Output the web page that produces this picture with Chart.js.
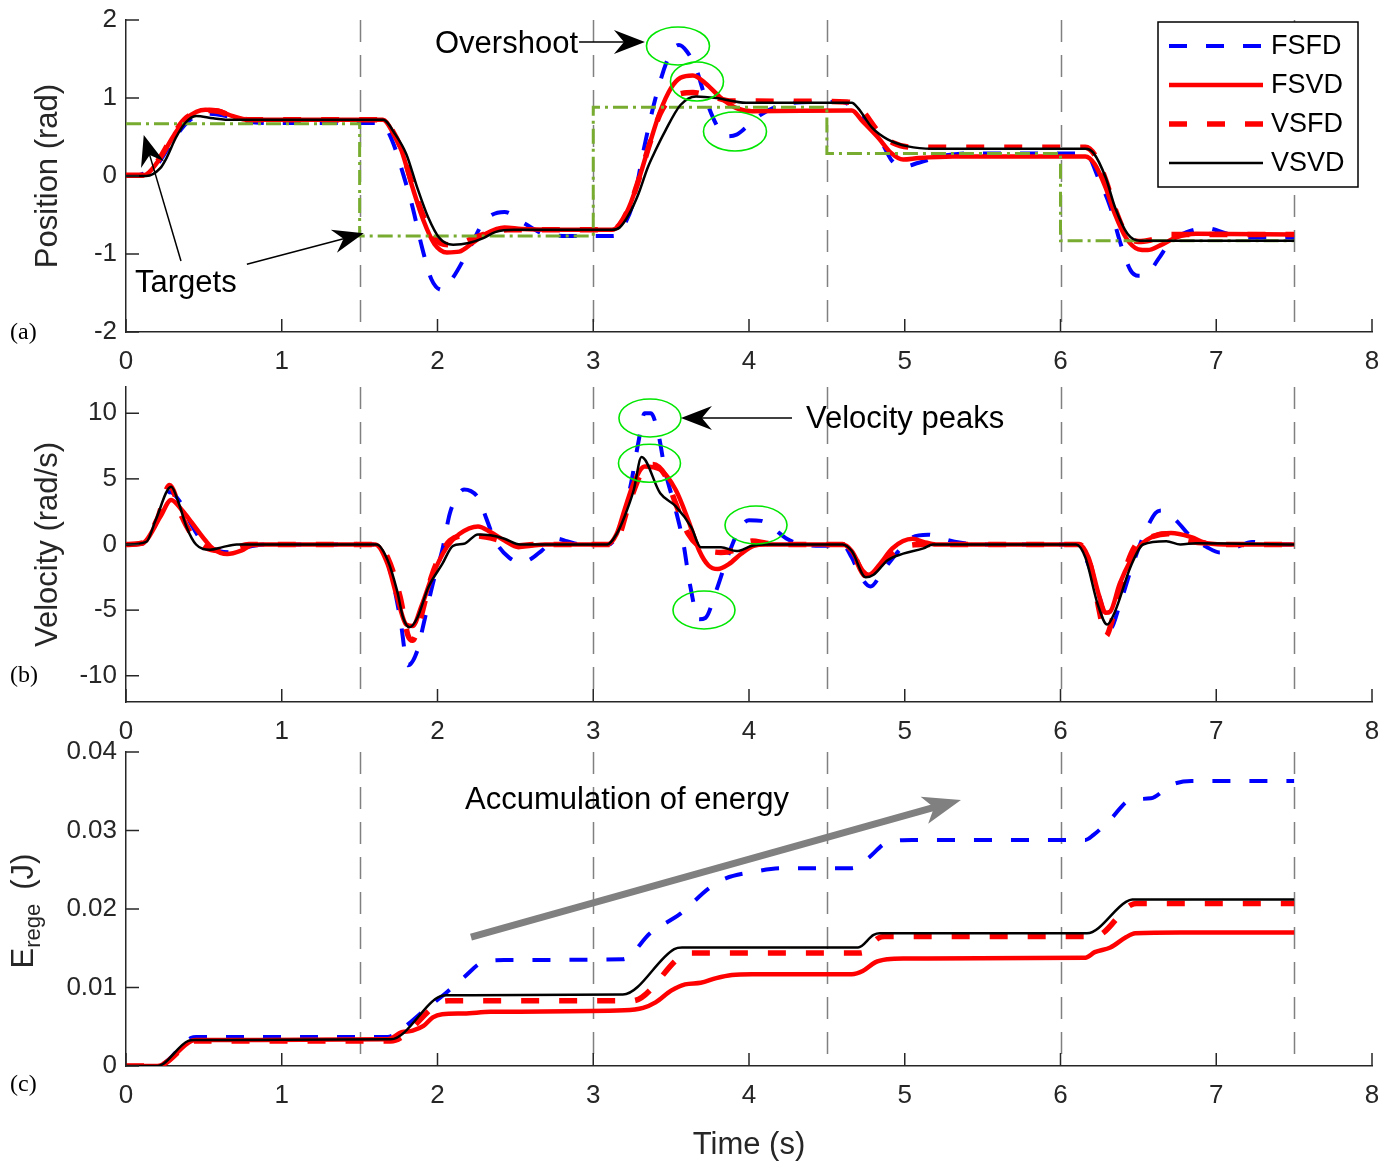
<!DOCTYPE html>
<html>
<head>
<meta charset="utf-8">
<title>Position, velocity and regenerated energy</title>
<script src="https://cdn.jsdelivr.net/npm/chart.js@4.4.0/dist/chart.umd.min.js"></script>
<style>
  body { margin: 0; background: #fff; }
  #wrap { position: relative; width: 1392px; height: 1161px; }
  #wrap canvas { position: absolute; left: 0; top: 0; }
</style>
</head>
<body>
<div id="wrap">
  <canvas id="posChart" width="1392" height="1161"></canvas>
  <canvas id="velChart" width="1392" height="1161"></canvas>
  <canvas id="energyChart" width="1392" height="1161"></canvas>
</div>
<script>
// ---- data ----
const seriesNames = ['FSFD', 'FSVD', 'VSFD', 'VSVD'];
const phaseTimes = [1.5, 3, 4.5, 6, 7.5];

// (a) position (rad)
const targetTime = [0, 1.5, 3, 4.5, 6, 7.5];
const targetPos = [0.67, -0.77, 0.88, 0.29, -0.83, -0.83];

const posTimeFSFD = [0, 0.1, 0.2, 0.3, 0.4, 0.52, 0.62, 0.75, 0.9, 1.6, 1.65, 1.71, 1.78, 1.84, 1.9, 1.96, 2.03, 2.1, 2.2, 2.3, 2.43, 2.55, 2.7, 2.9, 3.13, 3.2, 3.26, 3.32, 3.4, 3.49, 3.55, 3.6, 3.66, 3.72, 3.79, 3.85, 3.92, 3.98, 4.08, 4.21, 4.4, 4.6, 4.66, 4.76, 4.86, 4.92, 4.99, 5.09, 5.25, 5.44, 6.16, 6.25, 6.32, 6.38, 6.45, 6.5, 6.56, 6.63, 6.71, 6.81, 6.94, 7.07, 7.23, 7.5];
const posFSFD = [0, 0.02, 0.15, 0.45, 0.7, 0.8, 0.78, 0.71, 0.68, 0.68, 0.66, 0.45, 0.02, -0.4, -0.91, -1.32, -1.46, -1.3, -0.95, -0.58, -0.46, -0.6, -0.75, -0.77, -0.77, -0.62, -0.32, 0.3, 1.0, 1.55, 1.68, 1.6, 1.38, 1.0, 0.66, 0.51, 0.53, 0.62, 0.79, 0.91, 0.95, 0.95, 0.89, 0.7, 0.4, 0.19, 0.12, 0.17, 0.26, 0.29, 0.29, -0.06, -0.4, -0.83, -1.21, -1.28, -1.25, -1.06, -0.83, -0.72, -0.67, -0.74, -0.79, -0.79];

const posTimeFSVD = [0, 0.1, 0.13, 0.22, 0.31, 0.39, 0.51, 0.59, 0.68, 0.79, 1.65, 1.71, 1.77, 1.84, 1.91, 1.98, 2.06, 2.14, 2.23, 2.31, 2.43, 2.54, 2.77, 3.12, 3.17, 3.23, 3.29, 3.36, 3.43, 3.5, 3.56, 3.64, 3.72, 3.82, 3.92, 4.02, 4.66, 4.73, 4.83, 4.91, 4.99, 5.09, 5.31, 6.16, 6.22, 6.29, 6.35, 6.42, 6.5, 6.56, 6.64, 6.74, 6.87, 7.5];
const posFSVD = [0.01, 0.01, 0.02, 0.23, 0.53, 0.74, 0.85, 0.84, 0.77, 0.72, 0.72, 0.57, 0.32, -0.15, -0.57, -0.87, -0.98, -0.97, -0.85, -0.74, -0.66, -0.68, -0.69, -0.69, -0.62, -0.4, -0.06, 0.4, 0.83, 1.13, 1.26, 1.29, 1.19, 1.0, 0.87, 0.83, 0.84, 0.7, 0.49, 0.3, 0.21, 0.23, 0.25, 0.25, 0.15, -0.15, -0.49, -0.79, -0.94, -0.95, -0.89, -0.79, -0.74, -0.75];

const posTimeVSFD = [0, 0.1, 0.13, 0.22, 0.31, 0.39, 0.51, 0.59, 0.68, 0.79, 1.65, 1.71, 1.77, 1.84, 1.91, 1.98, 2.08, 2.16, 2.25, 2.35, 2.45, 2.6, 3.12, 3.17, 3.23, 3.29, 3.36, 3.43, 3.5, 3.57, 3.64, 3.76, 3.89, 4.02, 4.63, 4.73, 4.83, 4.92, 5.05, 5.31, 6.16, 6.22, 6.29, 6.35, 6.42, 6.5, 6.58, 6.71, 7.5];
const posVSFD = [0.01, 0.01, 0.02, 0.24, 0.55, 0.75, 0.84, 0.83, 0.77, 0.72, 0.72, 0.58, 0.33, -0.12, -0.52, -0.8, -0.88, -0.85, -0.78, -0.72, -0.69, -0.69, -0.69, -0.62, -0.4, -0.06, 0.4, 0.8, 1.0, 1.06, 1.07, 1.02, 0.96, 0.96, 0.95, 0.83, 0.57, 0.43, 0.37, 0.37, 0.37, 0.27, -0.05, -0.42, -0.74, -0.84, -0.82, -0.75, -0.75];

const posTimeVSVD = [0, 0.13, 0.22, 0.26, 0.32, 0.38, 0.45, 0.56, 0.68, 1.65, 1.73, 1.8, 1.87, 1.94, 2.01, 2.1, 2.2, 2.29, 2.37, 2.49, 3.12, 3.17, 3.23, 3.29, 3.35, 3.4, 3.46, 3.56, 3.66, 3.79, 3.98, 4.66, 4.7, 4.79, 4.89, 5.02, 5.18, 6.16, 6.21, 6.29, 6.35, 6.43, 6.51, 7.5];
const posVSVD = [0, 0, 0.1, 0.23, 0.49, 0.68, 0.77, 0.74, 0.72, 0.72, 0.53, 0.28, -0.15, -0.53, -0.79, -0.88, -0.86, -0.8, -0.72, -0.69, -0.69, -0.66, -0.49, -0.23, 0.11, 0.33, 0.57, 0.91, 1.02, 1.0, 0.94, 0.94, 0.87, 0.62, 0.47, 0.38, 0.35, 0.35, 0.3, -0.02, -0.4, -0.74, -0.83, -0.83];

// (b) velocity (rad/s)
const velTimeFSFD = [0, 0.12, 0.2, 0.28, 0.35, 0.42, 0.5, 0.6, 0.68, 0.78, 0.9, 1.35, 1.42, 1.5, 1.62, 1.7, 1.76, 1.81, 1.87, 1.91, 1.97, 2.03, 2.08, 2.14, 2.17, 2.27, 2.31, 2.37, 2.46, 2.54, 2.6, 2.67, 2.77, 2.83, 2.92, 3.1, 3.17, 3.24, 3.29, 3.33, 3.37, 3.42, 3.46, 3.53, 3.58, 3.62, 3.68, 3.72, 3.79, 3.87, 3.94, 4.0, 4.08, 4.16, 4.24, 4.34, 4.47, 4.6, 4.66, 4.72, 4.78, 4.86, 4.96, 5.05, 5.15, 5.25, 5.35, 5.5, 6.1, 6.16, 6.25, 6.32, 6.38, 6.45, 6.53, 6.61, 6.65, 6.74, 6.84, 6.94, 7.02, 7.13, 7.23, 7.35, 7.5];
const velFSFD = [0, 0.1, 1.8, 4.0, 3.2, 1.5, 0.1, -0.5, -0.6, -0.2, 0, 0, 0.3, 0, 0, -2.2, -5.6, -9.2, -8.1, -6.1, -3.0, -0.46, 2.4, 3.9, 4.2, 3.4, 2.1, 0.3, -1.0, -1.36, -1.1, -0.46, 0.44, 0.25, 0, 0, 1.3, 4.5, 7.8, 10.0, 10.0, 8.3, 5.7, 2.6, 0, -3.0, -5.7, -5.6, -3.5, -0.7, 1.2, 1.85, 1.8, 1.2, 0.45, 0, -0.1, 0, -1.0, -2.5, -3.2, -2.0, -0.5, 0.55, 0.75, 0.43, 0.15, 0, 0, -1.0, -4.0, -6.4, -4.6, -2.0, 0.56, 2.4, 2.6, 1.85, 0.56, -0.2, -0.6, -0.2, 0.2, 0, 0];

const velTimeFSVD = [0, 0.1, 0.13, 0.22, 0.29, 0.36, 0.42, 0.51, 0.56, 0.65, 0.74, 0.82, 1.6, 1.68, 1.74, 1.8, 1.84, 1.9, 1.97, 2.06, 2.14, 2.26, 2.34, 2.43, 2.52, 2.6, 2.69, 3.09, 3.15, 3.2, 3.26, 3.33, 3.43, 3.53, 3.61, 3.68, 3.74, 3.8, 3.87, 3.95, 4.03, 4.11, 4.6, 4.66, 4.73, 4.77, 4.84, 4.92, 5.05, 5.12, 5.2, 6.12, 6.18, 6.25, 6.29, 6.32, 6.38, 6.45, 6.51, 6.61, 6.71, 6.84, 6.94, 7.1, 7.5];
const velFSVD = [0, 0.05, 0.3, 2.1, 3.4, 2.6, 1.7, 0.3, -0.33, -0.72, -0.46, 0, 0, -1.5, -4.0, -6.1, -6.2, -4.6, -2.3, -0.2, 0.8, 1.38, 0.95, 0.3, -0.2, -0.1, 0, 0, 0.8, 2.6, 4.7, 5.95, 5.7, 4.15, 1.85, -0.46, -1.6, -1.87, -1.5, -0.7, -0.1, 0, 0, -0.5, -2.0, -2.3, -1.5, -0.3, 0.43, 0.2, 0, 0, -1.0, -4.0, -5.2, -5.1, -3.0, -1.2, -0.1, 0.7, 0.87, 0.56, 0.1, 0, 0];

const velTimeVSFD = [0, 0.1, 0.2, 0.28, 0.36, 0.42, 0.51, 0.59, 0.68, 0.79, 1.6, 1.68, 1.76, 1.81, 1.84, 1.88, 1.96, 2.01, 2.08, 2.2, 2.31, 2.4, 2.49, 2.63, 3.1, 3.15, 3.23, 3.32, 3.38, 3.46, 3.53, 3.61, 3.69, 3.82, 3.9, 4.02, 4.11, 4.21, 4.6, 4.66, 4.75, 4.81, 4.89, 4.99, 5.12, 6.12, 6.19, 6.25, 6.29, 6.34, 6.4, 6.48, 6.58, 6.69, 6.8, 6.94, 7.1, 7.5];
const velVSFD = [0, 0.1, 1.9, 4.5, 2.1, 0.8, -0.2, -0.46, -0.33, 0, 0, -1.0, -4.0, -6.9, -7.3, -6.1, -2.5, -1.0, 0.3, 0.7, 0.56, 0.3, -0.1, 0, 0, 0.25, 3.1, 5.7, 6.1, 5.3, 3.1, 0.8, -0.2, -0.6, -0.46, 0.26, 0.1, 0, 0, -0.5, -2.4, -2.0, -1.0, -0.2, 0, 0, -1.5, -5.1, -7.0, -5.4, -2.5, -0.1, 0.56, 0.82, 0.3, 0.1, 0, 0];

const velTimeVSVD = [0, 0.13, 0.19, 0.29, 0.34, 0.39, 0.45, 0.54, 0.62, 0.71, 1.61, 1.68, 1.74, 1.78, 1.82, 1.87, 1.94, 2.03, 2.1, 2.17, 2.26, 2.34, 2.43, 2.53, 2.63, 3.09, 3.15, 3.2, 3.26, 3.31, 3.43, 3.53, 3.63, 3.69, 3.75, 3.82, 3.92, 4.02, 4.11, 4.6, 4.66, 4.75, 4.8, 4.89, 4.99, 5.12, 5.18, 6.1, 6.16, 6.24, 6.3, 6.35, 6.45, 6.53, 6.68, 6.77, 6.87, 7.5];
const velVSVD = [0, 0.2, 1.85, 4.4, 3.1, 1.3, 0, -0.4, -0.2, 0, 0, -1.2, -3.5, -5.6, -6.3, -5.6, -3.3, -1.5, -0.1, 0.05, 0.77, 0.7, 0.44, 0, 0, 0, 0.8, 2.1, 4.15, 6.67, 3.9, 2.9, 1.3, -0.2, -0.2, -0.2, -0.5, -0.1, 0, 0, -0.5, -2.5, -2.3, -1.2, -0.7, -0.3, 0, 0, -1.0, -4.6, -6.1, -5.1, -1.7, 0, 0.25, 0, 0.1, 0];

// (c) regenerated energy (J)
const enTimeFSFD = [0, 0.2, 0.42, 0.45, 1.68, 1.77, 1.91, 2.06, 2.17, 2.29, 2.43, 3.19, 3.37, 3.56, 3.74, 3.85, 4.02, 4.21, 4.66, 4.76, 4.89, 5.05, 6.16, 6.21, 6.32, 6.45, 6.58, 6.71, 6.84, 7.5];
const enFSFD = [0, 0, 0.0036, 0.0037, 0.0037, 0.0047, 0.007, 0.0094, 0.0113, 0.0132, 0.0135, 0.0136, 0.017, 0.0194, 0.0226, 0.0239, 0.0247, 0.0252, 0.0252, 0.0264, 0.0285, 0.0288, 0.0288, 0.0294, 0.0314, 0.0339, 0.0341, 0.0358, 0.0363, 0.0363];

const enTimeFSVD = [0, 0.2, 0.42, 0.45, 1.68, 1.77, 1.84, 1.91, 1.97, 2.03, 2.17, 2.34, 3.2, 3.32, 3.4, 3.5, 3.59, 3.69, 3.79, 3.89, 4.02, 4.66, 4.73, 4.81, 4.89, 4.99, 6.16, 6.22, 6.32, 6.42, 6.48, 6.77, 7.5];
const enFSVD = [0, 0, 0.0032, 0.0033, 0.0034, 0.0043, 0.0045, 0.0051, 0.0062, 0.0066, 0.0067, 0.0069, 0.0071, 0.0074, 0.0081, 0.0096, 0.0104, 0.0106, 0.0112, 0.0116, 0.0117, 0.0117, 0.0121, 0.0132, 0.0136, 0.0137, 0.0138, 0.0145, 0.0151, 0.0164, 0.0169, 0.017, 0.017];

const enTimeVSFD = [0, 0.2, 0.42, 0.45, 1.7, 2.03, 2.07, 3.25, 3.58, 3.63, 4.72, 4.83, 4.87, 6.22, 6.45, 6.49, 7.5];
const enVSFD = [0, 0, 0.0031, 0.0032, 0.0032, 0.0082, 0.0083, 0.0083, 0.0142, 0.0144, 0.0144, 0.0163, 0.0165, 0.0165, 0.0205, 0.0207, 0.0207];

const enTimeVSVD = [0, 0.2, 0.4, 0.44, 1.7, 2.02, 2.06, 3.19, 3.52, 3.57, 4.7, 4.8, 4.84, 6.17, 6.42, 6.46, 7.5];
const enVSVD = [0, 0, 0.0032, 0.0033, 0.0034, 0.0089, 0.009, 0.0091, 0.0149, 0.0151, 0.0151, 0.0167, 0.0169, 0.0169, 0.0209, 0.0212, 0.0212];

// ---- styling ----
const FONT = '"Liberation Sans", Arial, Helvetica, sans-serif';
const SERIF = '"Liberation Serif", "Times New Roman", serif';
const AXIS_COLOR = '#262626';
const STYLE = {
  FSFD: { color: '#0000ff', width: 4, dash: [18, 19], order: 4 },
  FSVD: { color: '#ff0000', width: 4.5, dash: [], order: 3 },
  VSFD: { color: '#ff0000', width: 5.5, dash: [18, 20], order: 2 },
  VSVD: { color: '#000000', width: 2.5, dash: [], order: 0 }
};

Chart.defaults.font.family = FONT;
Chart.defaults.color = AXIS_COLOR;

function pts(ts, vs) {
  return ts.map((t, i) => ({ x: t, y: vs[i] }));
}

function series(name, ts, vs) {
  const s = STYLE[name];
  return {
    label: name,
    data: pts(ts, vs),
    borderColor: s.color,
    borderWidth: s.width,
    borderDash: s.dash,
    borderJoinStyle: 'round',
    order: s.order,
    pointRadius: 0,
    fill: false,
    cubicInterpolationMode: 'monotone'
  };
}

// annotations, in data units of each panel
const ANNOT = {
  posChart: {
    label: { text: '(a)', y: 333 },
    legend: true,
    ellipses: [[3.544, 1.667, 31.5, 19], [3.666, 1.212, 26.5, 19.5], [3.91, 0.571, 31.5, 19.5]],
    texts: [[1.984, 1.692, 'Overshoot'], [0.058, -1.372, 'Targets']],
    arrows: [
      { from: [2.909, 1.718], to: [3.332, 1.718] },
      { from: [0.353, -1.09], to: [0.114, 0.526] },
      { from: [0.776, -1.132], to: [1.527, -0.735] }
    ]
  },
  velChart: {
    label: { text: '(b)', y: 676 },
    ellipses: [[3.364, 9.638, 31, 19], [3.361, 6.187, 31, 19], [4.045, 1.486, 31, 19], [3.711, -4.99, 31, 19]],
    texts: [[4.366, 9.562, 'Velocity peaks']],
    arrows: [{ from: [4.276, 9.638], to: [3.563, 9.638] }]
  },
  energyChart: {
    label: { text: '(c)', y: 1085 },
    ylabel: true,
    ellipses: [],
    texts: [[2.177, 0.03389, 'Accumulation of energy']],
    arrows: [{ from: [2.215, 0.01643], to: [5.361, 0.03389], gray: true }]
  }
};

function drawArrow(ctx, x1, y1, x2, y2, color, width, len, half, notch) {
  const a = Math.atan2(y2 - y1, x2 - x1);
  const c = Math.cos(a), s = Math.sin(a);
  const nx = x2 - c * (len - notch), ny = y2 - s * (len - notch);
  const bx = x2 - c * len, by = y2 - s * len;
  ctx.strokeStyle = color;
  ctx.lineWidth = width;
  ctx.setLineDash([]);
  ctx.beginPath();
  ctx.moveTo(x1, y1);
  ctx.lineTo(nx + c, ny + s);
  ctx.stroke();
  ctx.fillStyle = color;
  ctx.beginPath();
  ctx.moveTo(x2, y2);
  ctx.lineTo(bx - s * half, by + c * half);
  ctx.lineTo(nx, ny);
  ctx.lineTo(bx + s * half, by - c * half);
  ctx.closePath();
  ctx.fill();
}

const figDecor = {
  id: 'figDecor',
  beforeDatasetsDraw(chart) {
    const { ctx, chartArea: area, scales: { x } } = chart;
    ctx.save();
    ctx.strokeStyle = '#808080';
    ctx.lineWidth = 1.5;
    ctx.setLineDash([22, 13]);
    phaseTimes.forEach(t => {
      const px = Math.round(x.getPixelForValue(t)) + 0.5;
      ctx.beginPath();
      ctx.moveTo(px, area.top);
      ctx.lineTo(px, area.bottom);
      ctx.stroke();
    });
    ctx.restore();
  },
  afterDraw(chart) {
    const { ctx, chartArea: area, scales: { x, y } } = chart;
    const cfg = ANNOT[chart.canvas.id];
    ctx.save();

    // inward tick marks
    ctx.strokeStyle = AXIS_COLOR;
    ctx.lineWidth = 1.5;
    x.ticks.forEach(t => {
      const px = x.getPixelForValue(t.value);
      ctx.beginPath(); ctx.moveTo(px, area.bottom); ctx.lineTo(px, area.bottom - 13); ctx.stroke();
    });
    y.ticks.forEach(t => {
      const py = y.getPixelForValue(t.value);
      ctx.beginPath(); ctx.moveTo(area.left, py); ctx.lineTo(area.left + 13, py); ctx.stroke();
    });

    // green circles around the peaks
    ctx.strokeStyle = '#00e600';
    ctx.lineWidth = 1.6;
    cfg.ellipses.forEach(([t, v, rx, ry]) => {
      ctx.beginPath();
      ctx.ellipse(x.getPixelForValue(t), y.getPixelForValue(v), rx, ry, 0, 0, Math.PI * 2);
      ctx.stroke();
    });

    // arrows
    cfg.arrows.forEach(a => {
      const x1 = x.getPixelForValue(a.from[0]), y1 = y.getPixelForValue(a.from[1]);
      const x2 = x.getPixelForValue(a.to[0]), y2 = y.getPixelForValue(a.to[1]);
      if (a.gray) drawArrow(ctx, x1, y1, x2, y2, '#808080', 7, 38, 14, 10);
      else drawArrow(ctx, x1, y1, x2, y2, '#000000', 1.5, 31, 12, 10);
    });

    // annotation text
    ctx.fillStyle = '#000';
    ctx.font = '31px ' + FONT;
    ctx.textAlign = 'left';
    ctx.textBaseline = 'middle';
    cfg.texts.forEach(([t, v, s]) => ctx.fillText(s, x.getPixelForValue(t), y.getPixelForValue(v)));

    // panel letter
    ctx.font = '24px ' + SERIF;
    ctx.fillText(cfg.label.text, 10, cfg.label.y);

    // legend box (panel a)
    if (cfg.legend) {
      const bx = area.right - 214, by = area.top + 2, bw = 200, bh = 165;
      ctx.fillStyle = '#fff';
      ctx.fillRect(bx, by, bw, bh);
      ctx.strokeStyle = '#000';
      ctx.lineWidth = 1.5;
      ctx.strokeRect(bx, by, bw, bh);
      ctx.font = '27px ' + FONT;
      seriesNames.forEach((name, i) => {
        const s = STYLE[name];
        const ly = by + 24 + i * 39;
        ctx.strokeStyle = s.color;
        ctx.lineWidth = s.width;
        ctx.setLineDash(s.dash);
        ctx.beginPath(); ctx.moveTo(bx + 11, ly); ctx.lineTo(bx + 105, ly); ctx.stroke();
        ctx.setLineDash([]);
        ctx.fillStyle = '#000';
        ctx.fillText(name, bx + 113, ly + 1);
      });
    }

    // E_rege (J) label with subscript
    if (cfg.ylabel) {
      const big = '31px ' + FONT, small = '22px ' + FONT;
      ctx.font = big;
      const wE = ctx.measureText('E').width, wJ = ctx.measureText('(J)').width;
      ctx.font = small;
      const wR = ctx.measureText('rege').width;
      const gap = 14, total = wE + wR + gap + wJ;
      const cy = (area.top + area.bottom) / 2 + 2;
      ctx.fillStyle = AXIS_COLOR;
      ctx.textBaseline = 'alphabetic';
      ctx.translate(33, cy + total / 2);
      ctx.rotate(-Math.PI / 2);
      ctx.font = big; ctx.fillText('E', 0, 0);
      ctx.font = small; ctx.fillText('rege', wE, 7);
      ctx.font = big; ctx.fillText('(J)', wE + wR + gap, 0);
    }
    ctx.restore();
  }
};

function xAxis(showTitle, height) {
  return {
    type: 'linear', min: 0, max: 8,
    ticks: { stepSize: 1, font: { size: 26, lineHeight: 1.35 }, color: AXIS_COLOR, padding: 12, maxRotation: 0, autoSkip: false, includeBounds: false },
    grid: { display: false, drawTicks: false },
    border: { display: true, color: AXIS_COLOR, width: 1.5 },
    title: { display: showTitle, text: 'Time (s)', font: { size: 31 }, color: AXIS_COLOR, padding: { top: 0, bottom: -3 } },
    afterFit: s => { s.height = height; }
  };
}

function yAxis(min, max, step, title, fmt) {
  return {
    type: 'linear', min: min, max: max,
    ticks: { stepSize: step, font: { size: 26, lineHeight: 0.8 }, color: AXIS_COLOR, padding: 9, includeBounds: false, callback: fmt },
    grid: { display: false, drawTicks: false },
    border: { display: true, color: AXIS_COLOR, width: 1.5 },
    title: { display: !!title, text: title, font: { size: 31 }, color: AXIS_COLOR, padding: { top: 14, bottom: 0 } },
    afterFit: s => { s.width = 110; }
  };
}

function makeChart(id, datasets, yScale, xScale, top, bottom) {
  return new Chart(document.getElementById(id), {
    type: 'line',
    data: { datasets: datasets },
    options: {
      responsive: false,
      animation: false,
      events: [],
      layout: { padding: { left: 16, right: 20, top: top, bottom: bottom } },
      plugins: { legend: { display: false }, tooltip: { enabled: false } },
      scales: { x: xScale, y: yScale }
    },
    plugins: [figDecor]
  });
}

const num = v => String(Math.round(v * 100) / 100);

// (a) position
makeChart('posChart', [
  series('FSFD', posTimeFSFD, posFSFD),
  series('FSVD', posTimeFSVD, posFSVD),
  series('VSFD', posTimeVSFD, posVSFD),
  series('VSVD', posTimeVSVD, posVSVD),
  {
    label: 'Targets', data: pts(targetTime, targetPos), stepped: 'before',
    borderColor: '#77ac30', borderWidth: 3, borderDash: [15, 5, 3, 5],
    pointRadius: 0, fill: false, order: 1
  }
], yAxis(-2, 2, 1, 'Position (rad)', num), xAxis(false, 60), 20, 1161 - 332 - 60);

// (b) velocity
makeChart('velChart', [
  series('FSFD', velTimeFSFD, velFSFD),
  series('FSVD', velTimeFSVD, velFSVD),
  series('VSFD', velTimeVSFD, velVSFD),
  series('VSVD', velTimeVSVD, velVSVD)
], yAxis(-12, 12, 5, 'Velocity (rad/s)', num), xAxis(false, 60), 387, 1161 - 702 - 60);

// (c) regenerated energy
makeChart('energyChart', [
  series('FSFD', enTimeFSFD, enFSFD),
  series('FSVD', enTimeFSVD, enFSVD),
  series('VSFD', enTimeVSFD, enVSFD),
  series('VSVD', enTimeVSVD, enVSVD)
], yAxis(0, 0.04, 0.01, '', num), xAxis(true, 95), 752, 0);
</script>
</body>
</html>
